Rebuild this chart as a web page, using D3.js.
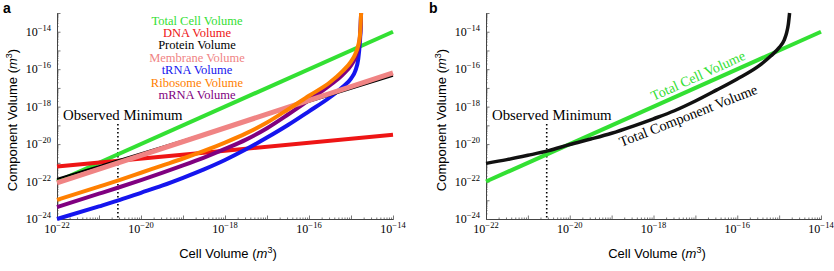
<!DOCTYPE html>
<html lang="en">
<head>
<meta charset="UTF-8">
<title>Component volumes</title>
<script src="https://d3js.org/d3.v7.min.js"></script>
<style>
    body { margin: 0; background: #fff; }
</style>
</head>
<body>
<script>

    // all values are log10 of volume in m^3

    // straight lines
    var totalCellX = [-22, -14];
    var totalCellY = [-22, -14];
    var dnaX = [-22, -18, -14];
    var dnaY = [-21.2, -20.35, -19.5];
    var proteinX = [-22, -17, -14];
    var proteinY = [-21.86, -18.44, -16.35];
    var membraneX = [-22, -14];
    var membraneY = [-22.07, -16.2];

    // curves that blow up near 10^-14.76
    var growthX = [-22, -21, -20.5, -20, -19.5, -19, -18.5, -18, -17.5, -17, -16.5, -16, -15.5, -15.2, -15, -14.9, -14.83, -14.79, -14.77, -14.76];
    var trnaY = [-24.0, -23.33, -22.98, -22.6, -22.22, -21.8, -21.35, -20.85, -20.28, -19.65, -18.98, -18.25, -17.5, -16.95, -16.5, -16.1, -15.5, -14.6, -13.8, -13.0];
    var ribosomeY = [-22.98, -22.27, -21.91, -21.53, -21.15, -20.77, -20.36, -19.92, -19.43, -18.85, -18.15, -17.42, -16.7, -16.1, -15.6, -15.2, -14.75, -14.25, -13.6, -13.0];
    var mrnaY = [-23.36, -22.65, -22.29, -21.92, -21.54, -21.14, -20.72, -20.26, -19.76, -19.15, -18.42, -17.65, -16.85, -16.3, -15.8, -15.4, -14.92, -14.35, -13.7, -13.0];

    // panel b: sum of all components
    var totalCompX = [-22, -21.5, -21, -20.5, -20, -19.5, -19, -18.5, -18, -17.5, -17, -16.5, -16, -15.5, -15.2, -15, -14.88, -14.82, -14.78, -14.75];
    var totalCompY = [-21.03, -20.83, -20.6, -20.35, -20.02, -19.73, -19.42, -19.05, -18.65, -18.22, -17.7, -17.12, -16.52, -15.85, -15.3, -14.85, -14.45, -14.05, -13.6, -13.0];

    var observedMin = -20.55;

    var xTicks = [-22, -20, -18, -16, -14];
    var yTicks = [-24, -22, -20, -18, -16, -14];
    var xDomain = [-22, -14];
    var yDomain = [-24, -13];

    var legendNames = ["Total Cell Volume", "DNA Volume", "Protein Volume", "Membrane Volume", "tRNA Volume", "Ribosome Volume", "mRNA Volume"];
    var legendColors = ["#33e033", "#ee1515", "#000000", "#f08484", "#1515ee", "#ff8000", "#800080"];

    function pow10(e) { return Math.pow(10, e); }
    function pairs(xs, ys) { return xs.map((x, i) => [pow10(x), pow10(ys[i])]); }

    var svg = d3.select('body')
        .append('svg')
        .attr('width', 834)
        .attr('height', 271)
        .style('font-family', '"Liberation Serif", "Times New Roman", serif');

    var y = d3.scaleLog()
        .domain(yDomain.map(pow10))
        .range([219, 13]);

    var xa = d3.scaleLog().domain(xDomain.map(pow10)).range([57, 393]);
    var xb = d3.scaleLog().domain(xDomain.map(pow10)).range([486, 821]);

    // minor tick values (2..9 in every decade)
    function minorTicks(lo, hi) {
        var v = [];
        for (var d = lo; d < hi; d++) {
            for (var k = 2; k <= 9; k++) v.push(k * pow10(d));
        }
        return v;
    }
    function decades(lo, hi) { return d3.range(lo, hi + 1).map(pow10); }

    function supLabel(sel, e) {
        sel.text('10');
        sel.append('tspan')
            .attr('dy', -5)
            .style('font-size', '8.5px')
            .text('\u2212' + Math.abs(e));
    }

    function drawAxes(x, x0) {
        var g = svg.append('g');

        // bottom axis
        var bx = g.append('g').attr('transform', 'translate(0,219)');
        bx.call(d3.axisBottom(x).tickValues(minorTicks(-22, -14)).tickSize(-1.5).tickSizeOuter(0).tickFormat(''));
        bx.append('g').call(d3.axisBottom(x).tickValues(decades(-22, -14)).tickSize(-3.5).tickSizeOuter(0).tickFormat(''));

        // left axis
        var ly = g.append('g').attr('transform', 'translate(' + x0 + ',0)');
        ly.call(d3.axisLeft(y).tickValues(minorTicks(-24, -13)).tickSize(-1.5).tickSizeOuter(0).tickFormat(''));
        ly.append('g').call(d3.axisLeft(y).tickValues(decades(-24, -13)).tickSize(-3.5).tickSizeOuter(0).tickFormat(''));

        g.selectAll('path.domain').attr('stroke', '#444').attr('stroke-width', 1);
        g.selectAll('.tick line').attr('stroke', '#555').attr('stroke-width', 0.8);
        g.selectAll('g').attr('font-size', null).attr('font-family', null);

        // tick labels
        g.selectAll('.xlab')
            .data(xTicks)
            .enter()
            .append('text')
            .attr('x', (d) => x(pow10(d)))
            .attr('y', 233)
            .attr('text-anchor', 'middle')
            .style('font-size', '12px')
            .each(function (d) { supLabel(d3.select(this), d); });

        g.selectAll('.ylab')
            .data(yTicks)
            .enter()
            .append('text')
            .attr('x', x0 - 6)
            .attr('y', (d) => y(pow10(d)) + 4)
            .attr('text-anchor', 'end')
            .style('font-size', '12px')
            .each(function (d) { supLabel(d3.select(this), d); });

        // axis titles
        var xt = g.append('text')
            .attr('x', x0 + 171)
            .attr('y', 258)
            .attr('text-anchor', 'middle')
            .style('font-family', '"Liberation Sans", Arial, sans-serif')
            .style('font-size', '13px')
            .text('Cell Volume (');
        xt.append('tspan').style('font-style', 'italic').text('m');
        xt.append('tspan').attr('dy', -5).style('font-size', '9px').text('3');
        xt.append('tspan').attr('dy', 5).text(')');

        var yt = g.append('text')
            .attr('transform', 'translate(' + (x0 - 40) + ',120) rotate(-90)')
            .attr('text-anchor', 'middle')
            .style('font-family', '"Liberation Sans", Arial, sans-serif')
            .style('font-size', '13px')
            .text('Component Volume (');
        yt.append('tspan').style('font-style', 'italic').text('m');
        yt.append('tspan').attr('dy', -5).style('font-size', '9px').text('3');
        yt.append('tspan').attr('dy', 5).text(')');

        // observed minimum
        g.append('line')
            .attr('x1', x(pow10(observedMin)))
            .attr('x2', x(pow10(observedMin)))
            .attr('y1', 124)
            .attr('y2', 219)
            .attr('stroke', '#000')
            .attr('stroke-width', 1.6)
            .attr('stroke-dasharray', '1.6,2.4');

        g.append('text')
            .attr('x', x0 + 6)
            .attr('y', 120)
            .style('font-size', '14.8px')
            .text('Observed Minimum');
    }

    function drawLine(x, data, color, width) {
        var line = d3.line()
            .x((d) => x(d[0]))
            .y((d) => y(d[1]))
            .curve(d3.curveMonotoneX);
        svg.append('path')
            .attr('d', line(data))
            .attr('fill', 'none')
            .attr('stroke', color)
            .attr('stroke-width', width)
            .attr('stroke-linejoin', 'round');
    }

    // ---- panel a
    drawAxes(xa, 57);
    drawLine(xa, pairs(totalCellX, totalCellY), legendColors[0], 4);
    drawLine(xa, pairs(dnaX, dnaY), legendColors[1], 4);
    drawLine(xa, pairs(growthX, trnaY), legendColors[4], 4);
    drawLine(xa, pairs(growthX, mrnaY), legendColors[6], 4);
    drawLine(xa, pairs(proteinX, proteinY), legendColors[2], 2);
    drawLine(xa, pairs(membraneX, membraneY), legendColors[3], 5);
    drawLine(xa, pairs(growthX, ribosomeY), legendColors[5], 4);

    svg.selectAll('.legend')
        .data(legendNames)
        .enter()
        .append('text')
        .attr('x', 197)
        .attr('y', (d, i) => 24.5 + i * 12.4)
        .attr('text-anchor', 'middle')
        .attr('fill', (d, i) => legendColors[i])
        .style('font-size', '12.5px')
        .text((d) => d);

    // ---- panel b
    drawAxes(xb, 486);
    drawLine(xb, pairs(totalCellX, totalCellY), legendColors[0], 4);
    drawLine(xb, pairs(totalCompX, totalCompY), '#111', 3.5);

    svg.append('text')
        .attr('transform', 'translate(700,80) rotate(-24.4)')
        .attr('text-anchor', 'middle')
        .attr('fill', legendColors[0])
        .style('font-size', '14px')
        .text('Total Cell Volume');

    svg.append('text')
        .attr('transform', 'translate(690,120) rotate(-21.5)')
        .attr('text-anchor', 'middle')
        .attr('fill', '#000')
        .style('font-size', '14.3px')
        .text('Total Component Volume');

    // panel letters
    svg.append('text').attr('x', 3).attr('y', 13)
        .style('font-family', '"Liberation Sans", Arial, sans-serif')
        .style('font-weight', 'bold').style('font-size', '14px').text('a');
    svg.append('text').attr('x', 429).attr('y', 13)
        .style('font-family', '"Liberation Sans", Arial, sans-serif')
        .style('font-weight', 'bold').style('font-size', '14px').text('b');

</script>
</body>
</html>
